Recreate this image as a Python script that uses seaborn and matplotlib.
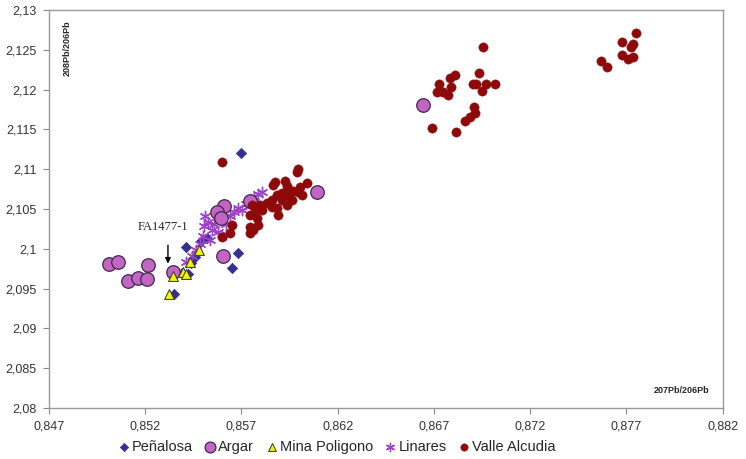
import matplotlib
matplotlib.use("Agg")
import matplotlib.pyplot as plt
import seaborn as sns
from matplotlib.ticker import FuncFormatter, FixedLocator

# dati: rapporti 207Pb/206Pb (x) e 208Pb/206Pb (y)
penalosa_x = [0.8570, 0.8565, 0.8568, 0.8541, 0.8549, 0.8535, 0.8542, 0.8544, 0.8539, 0.8552, 0.8546]
penalosa_y = [2.1120, 2.0976, 2.0995, 2.1002, 2.1010, 2.0943, 2.0968, 2.0982, 2.0970, 2.1014, 2.0990]

argar_x = [0.85012, 0.85058, 0.85214, 0.85110, 0.85162, 0.85209, 0.85344, 0.85604,
           0.85583, 0.85609, 0.85572, 0.85593, 0.85744, 0.86092, 0.86642]
argar_y = [2.09809, 2.09834, 2.09796, 2.09596, 2.09633, 2.09621, 2.09709, 2.09910,
           2.10450, 2.10538, 2.10462, 2.10387, 2.10601, 2.10714, 2.11807]

mina_x = [0.85323, 0.85344, 0.85396, 0.85411, 0.85432, 0.85479]
mina_y = [2.09432, 2.09658, 2.09709, 2.09683, 2.09834, 2.09985]

linares_x = [0.85411, 0.85443, 0.85463, 0.85484, 0.85500, 0.85505, 0.85510, 0.85526,
             0.85546, 0.85557, 0.85578, 0.85588, 0.85619, 0.85640, 0.85661, 0.85681,
             0.85702, 0.85723, 0.85744, 0.85765, 0.85785, 0.85806, 0.85536, 0.85619]
linares_y = [2.09834, 2.09910, 2.09985, 2.10060, 2.10161, 2.10286, 2.10412, 2.10337,
             2.10236, 2.10312, 2.10211, 2.10362, 2.10312, 2.10412, 2.10462, 2.10513,
             2.10487, 2.10563, 2.10613, 2.10651, 2.10689, 2.10714, 2.10111, 2.10186]

valle_x = [0.85598, 0.85993, 0.85988, 0.85874, 0.85863, 0.85926, 0.85936, 0.86040,
           0.86003, 0.85967, 0.85910, 0.85884, 0.85941, 0.85993, 0.85858, 0.85910,
           0.85962, 0.86014, 0.85832, 0.85796, 0.85754, 0.85770, 0.85806, 0.85858,
           0.85889, 0.85744, 0.85780, 0.85744, 0.85759, 0.85785, 0.85744, 0.85650,
           0.85640, 0.85598, 0.85884, 0.85936,
           0.86954, 0.86808, 0.86782, 0.86933, 0.86725, 0.86788, 0.86715, 0.86746,
           0.86772, 0.86902, 0.86917, 0.86969, 0.87016, 0.86949, 0.86907, 0.86912,
           0.86886, 0.86860, 0.86689, 0.86814,
           0.87748, 0.87676, 0.87733, 0.87722, 0.87676, 0.87707, 0.87733, 0.87567, 0.87598]
valle_y = [2.11091, 2.11003, 2.10965, 2.10839, 2.10802, 2.10852, 2.10789, 2.10827,
           2.10776, 2.10726, 2.10701, 2.10676, 2.10676, 2.10714, 2.10613, 2.10613,
           2.10613, 2.10676, 2.10575, 2.10550, 2.10550, 2.10462, 2.10487, 2.10525,
           2.10425, 2.10425, 2.10387, 2.10274, 2.10236, 2.10299, 2.10199, 2.10299,
           2.10199, 2.10148, 2.10513, 2.10550,
           2.12535, 2.12183, 2.12146, 2.12209, 2.12070, 2.12033, 2.11970, 2.11970,
           2.11932, 2.12070, 2.12070, 2.12070, 2.12070, 2.11982, 2.11781, 2.11706,
           2.11656, 2.11606, 2.11518, 2.11467,
           2.12711, 2.12598, 2.12573, 2.12535, 2.12435, 2.12385, 2.12410, 2.12359, 2.12284]

# tacche degli assi come nel grafico originale
x_ticks = [0.847, 0.852, 0.857, 0.862, 0.867, 0.872, 0.877, 0.882]
y_ticks = [2.08, 2.085, 2.09, 2.095, 2.1, 2.105, 2.11, 2.115, 2.12, 2.125, 2.13]

sns.set_style("white")
plt.rcParams['font.family'] = ['Liberation Sans', 'DejaVu Sans']

fig = plt.figure(figsize=(7.46, 4.59), dpi=100)
ax = fig.add_axes([0.0657, 0.111, 0.903, 0.867])

# una serie alla volta, nell'ordine originale
sns.scatterplot(x=penalosa_x, y=penalosa_y, ax=ax, marker='D', s=28, color='#32318f',
                edgecolor='#32318f', linewidth=0.5, label='Peñalosa', zorder=3)
sns.scatterplot(x=argar_x, y=argar_y, ax=ax, marker='o', s=95, color='#c464c4',
                edgecolor='#3a2a4a', linewidth=0.9, label='Argar', zorder=4)
sns.scatterplot(x=mina_x, y=mina_y, ax=ax, marker='^', s=50, color='#f4f400',
                edgecolor='#333333', linewidth=0.7, label='Mina Poligono', zorder=5)
sns.scatterplot(x=linares_x, y=linares_y, ax=ax, marker=(6, 2, 0), s=55, color='#a040c8',
                linewidth=1.0, label='Linares', zorder=3)
sns.scatterplot(x=valle_x, y=valle_y, ax=ax, marker='o', s=45, color='#8e0a0a',
                edgecolor='#8e0a0a', linewidth=0.3, label='Valle Alcudia', zorder=4)

ax.set_xlim(x_ticks[0], x_ticks[-1])
ax.set_ylim(y_ticks[0], y_ticks[-1])
ax.xaxis.set_major_locator(FixedLocator(x_ticks))
ax.yaxis.set_major_locator(FixedLocator(y_ticks))
fmt = FuncFormatter(lambda v, p: ('%g' % round(v, 3)).replace('.', ','))
ax.xaxis.set_major_formatter(fmt)
ax.yaxis.set_major_formatter(fmt)
ax.tick_params(axis='both', direction='out', length=4, width=0.8, color='#888888',
               labelsize=9, labelcolor='#333333', pad=5)
ax.tick_params(bottom=True, left=True)
for sp in ax.spines.values():
    sp.set_color('#999999')
    sp.set_linewidth(1.0)
ax.set_xlabel('')
ax.set_ylabel('')

# etichette degli assi dentro l'area del grafico
ax.text(0.027, 0.975, '208Pb/206Pb', transform=ax.transAxes, rotation=90,
        ha='center', va='top', fontsize=6.5, fontweight='bold')
ax.text(0.981, 0.043, '207Pb/206Pb', transform=ax.transAxes,
        ha='right', va='center', fontsize=6.5, fontweight='bold')

# freccia e nome del campione
ax.annotate('', xy=(0.85318, 2.0978), xytext=(0.85318, 2.1008),
            arrowprops=dict(arrowstyle='-|>', color='black', lw=1.0, mutation_scale=8))
ax.text(0.85290, 2.1027, 'FA1477-1', family=['Liberation Serif', 'DejaVu Serif'],
        fontsize=9, ha='center', va='center')

ax.legend(loc='center', bbox_to_anchor=(0.426, -0.098), ncol=5, frameon=False,
          fontsize=10.5, handletextpad=0.05, handlelength=1.0, columnspacing=0.7,
          markerscale=0.8)

fig.savefig('out.png', dpi=100)
